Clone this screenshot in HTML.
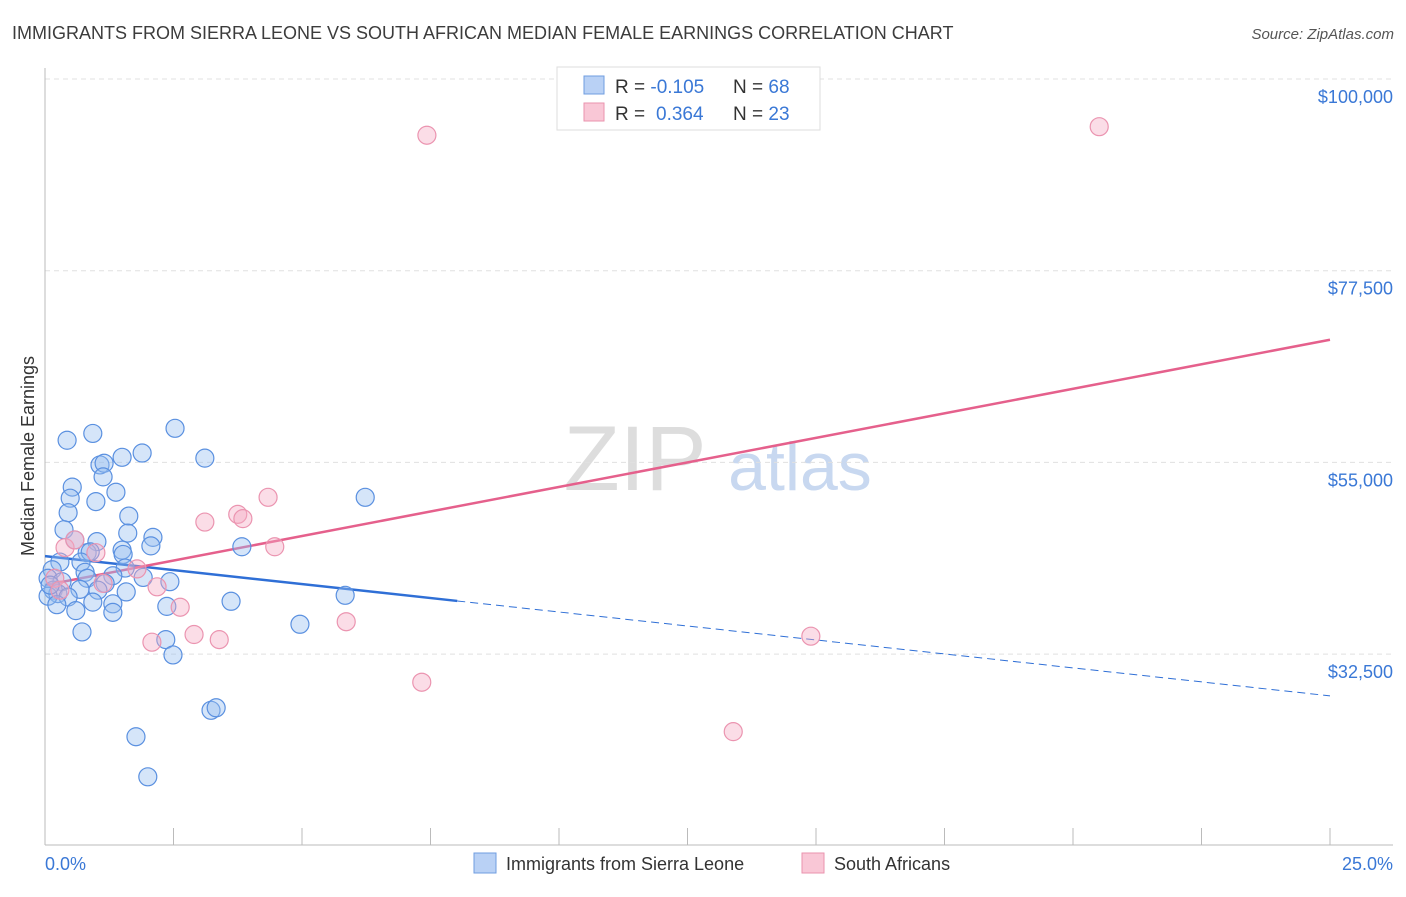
<!DOCTYPE html>
<html><head><meta charset="utf-8"><style>
body{margin:0;background:#fff;font-family:"Liberation Sans",sans-serif}
svg text{font-family:"Liberation Sans",sans-serif}
</style></head><body>
<svg id="chart" width="1406" height="892" viewBox="0 0 1406 892" xmlns="http://www.w3.org/2000/svg">
<text x="12" y="39" font-size="18" fill="#3c3c3c">IMMIGRANTS FROM SIERRA LEONE VS SOUTH AFRICAN MEDIAN FEMALE EARNINGS CORRELATION CHART</text>
<text x="1394" y="39" font-size="15" fill="#555" font-style="italic" text-anchor="end">Source: ZipAtlas.com</text>
<g>
<text x="635" y="490" font-size="92" fill="#ddd" font-family="Liberation Serif" text-anchor="middle">ZIP</text>
<text x="800" y="490" font-size="68" fill="#c8d8f0" text-anchor="middle">atlas</text>
</g>
<text transform="translate(34,456) rotate(-90)" font-size="18" fill="#333" text-anchor="middle">Median Female Earnings</text>
<g id="grid"></g>
<line x1="45" y1="68" x2="45" y2="845" stroke="#bbb"/>
<line x1="45" y1="845" x2="1393" y2="845" stroke="#bbb"/>
<g id="ticks"></g>
<g id="lines"></g>
<g id="points"></g>
<text x="45" y="870" font-size="18" fill="#3a78d6">0.0%</text>
<text x="1393" y="870" font-size="18" fill="#3a78d6" text-anchor="end">25.0%</text>
<g>
<rect x="557" y="67" width="263" height="63" fill="#fff" stroke="#ddd"/>
<rect x="584" y="76" width="20" height="18" fill="#b9d1f5" stroke="#6f9de0"/>
<rect x="584" y="103" width="20" height="18" fill="#f9c7d6" stroke="#ea93ae"/>
<text x="615" y="93" font-size="19" fill="#333">R = <tspan fill="#3a78d6">-0.105</tspan><tspan x="733">N = </tspan><tspan fill="#3a78d6">68</tspan></text>
<text x="615" y="120" font-size="19" fill="#333">R = <tspan fill="#3a78d6" x="656">0.364</tspan><tspan x="733">N = </tspan><tspan fill="#3a78d6">23</tspan></text>
</g>
<g>
<rect x="474" y="853" width="22" height="20" fill="#b9d1f5" stroke="#6f9de0"/>
<text x="506" y="870" font-size="18" fill="#333">Immigrants from Sierra Leone</text>
<rect x="802" y="853" width="22" height="20" fill="#f9c7d6" stroke="#ea93ae"/>
<text x="834" y="870" font-size="18" fill="#333">South Africans</text>
</g>
</svg>
<script>
const yTicks=[100000,77500,55000,32500];
const yTickLabels=["$100,000","$77,500","$55,000","$32,500"];
const xTicks=[0,2.5,5,7.5,10,12.5,15,17.5,20,22.5,25];
const blueX=[0.43,0.93,2.53,1.89,1.50,3.11,1.07,1.15,1.13,0.53,1.38,0.49,0.99,6.23,0.45,1.63,0.37,1.61,2.10,0.58,1.01,2.06,3.83,0.82,0.88,1.50,1.52,0.29,0.70,1.56,0.14,0.78,1.32,1.91,0.06,0.82,0.33,1.17,2.43,0.16,0.68,1.03,1.58,0.25,5.84,0.06,0.45,0.93,3.62,0.23,1.32,2.37,0.60,1.32,4.96,0.72,2.35,2.49,3.23,3.33,1.77,2.00,0.10];
const blueY=[57.6,58.4,59.0,56.1,55.6,55.5,54.7,54.9,53.3,52.1,51.5,50.8,50.4,50.9,49.1,48.7,47.1,46.7,46.2,45.9,45.7,45.2,45.1,44.4,44.5,44.7,44.2,43.3,43.3,42.6,42.4,42.1,41.7,41.5,41.4,41.4,41.0,40.8,41.0,40.0,40.1,40.0,39.8,39.6,39.4,39.3,39.2,38.6,38.7,38.3,38.4,38.1,37.6,37.4,36.0,35.1,34.2,32.4,25.9,26.2,22.8,18.1,40.6];
const pinkX=[7.43,20.51,4.34,3.75,3.85,3.11,4.47,0.39,0.58,0.99,1.79,1.13,2.18,2.63,5.86,2.90,3.39,2.08,14.90,7.33,13.39,0.19,0.29];
const pinkY=[93.4,94.4,50.9,48.9,48.4,48.0,45.1,45.0,45.9,44.4,42.5,40.8,40.4,38.0,36.3,34.8,34.2,33.9,34.6,29.2,23.4,41.4,40.0];
const blueTrend=[44.0,27.6]; const blueSolidEnd=8.02;
const pinkTrend=[40.6,69.4];
const NS="http://www.w3.org/2000/svg";
const sx=p=>45+p/25*1285;
const sy=v=>79+(100-v/1000*(v>1000?1:1000))*0; // placeholder
function Y(k){return 79+(100-k)/22.5*191.7;}
function mk(tag,attrs,parent){const e=document.createElementNS(NS,tag);for(const k in attrs)e.setAttribute(k,attrs[k]);document.getElementById(parent).appendChild(e);return e;}
yTicks.forEach((t,i)=>{
 const y=Y(t/1000);
 const l=mk('line',{x1:45,x2:1393,y1:y,y2:y,stroke:'#e0e0e0','stroke-dasharray':'5,4'},'grid');
 
 
 const tx=mk('text',{x:1393,y:y+24,'font-size':18,fill:'#3a78d6','text-anchor':'end'},'grid');
 tx.textContent=yTickLabels[i];
 
 
});
xTicks.forEach(t=>{
 const x=sx(t);
 const l=mk('line',{x1:x,x2:x,y1:828,y2:845,stroke:'#bbb'},'ticks');
 
 
});
const bl1=mk('line',{x1:sx(0),y1:Y(blueTrend[0]),x2:sx(blueSolidEnd),y2:Y(blueTrend[0]+(blueTrend[1]-blueTrend[0])*blueSolidEnd/25),stroke:'#2f6fd6','stroke-width':2.5},'lines');


const bl2=mk('line',{x1:sx(blueSolidEnd),y1:Y(blueTrend[0]+(blueTrend[1]-blueTrend[0])*blueSolidEnd/25),x2:sx(25),y2:Y(blueTrend[1]),stroke:'#2f6fd6','stroke-width':1,'stroke-dasharray':'8,5'},'lines');


const pl=mk('line',{x1:sx(0),y1:Y(pinkTrend[0]),x2:sx(25),y2:Y(pinkTrend[1]),stroke:'#e5608c','stroke-width':2.5},'lines');


blueX.forEach((x,i)=>{
 const c=mk('circle',{cx:sx(x),cy:Y(blueY[i]),r:9,fill:'rgba(150,190,240,0.4)',stroke:'#5a90e0','stroke-width':1.2},'points');
 
 
});
pinkX.forEach((x,i)=>{
 const c=mk('circle',{cx:sx(x),cy:Y(pinkY[i]),r:9,fill:'rgba(245,170,195,0.4)',stroke:'#eb94b0','stroke-width':1.2},'points');
 
 
});
</script>
</body></html>
